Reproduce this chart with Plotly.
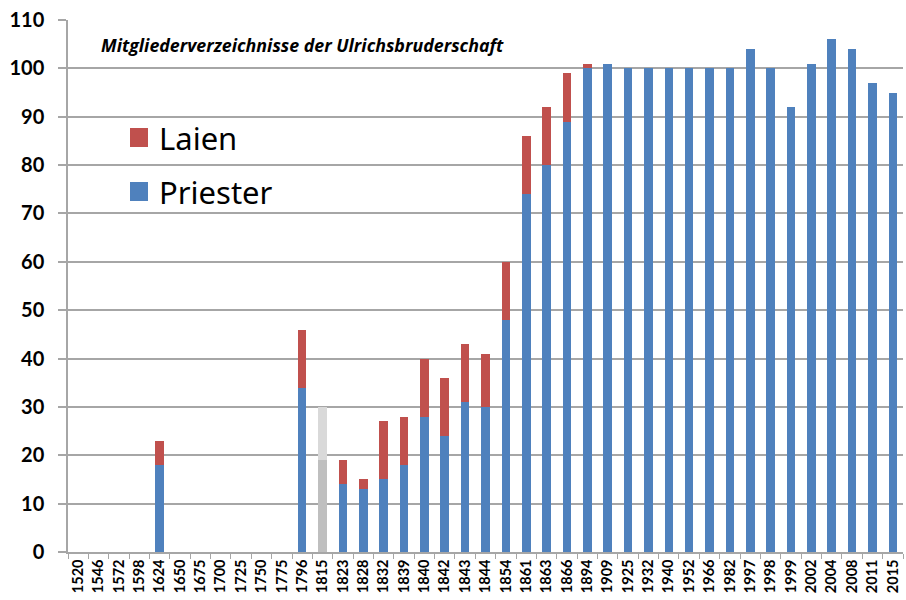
import plotly.graph_objects as go

years = ["1520", "1546", "1572", "1598", "1624", "1650", "1675", "1700", "1725", "1750",
         "1775", "1796", "1815", "1823", "1828", "1832", "1839", "1840", "1842", "1843",
         "1844", "1854", "1861", "1863", "1866", "1894", "1909", "1925", "1932", "1940",
         "1952", "1966", "1982", "1997", "1998", "1999", "2002", "2004", "2008", "2011", "2015"]

priester = [0, 0, 0, 0, 18, 0, 0, 0, 0, 0,
            0, 34, 19, 14, 13, 15, 18, 28, 24, 31,
            30, 48, 74, 80, 89, 100, 101, 100, 100, 100,
            100, 100, 100, 104, 100, 92, 101, 106, 104, 97, 95]

laien = [0, 0, 0, 0, 5, 0, 0, 0, 0, 0,
         0, 12, 11, 5, 2, 12, 10, 12, 12, 12,
         11, 12, 12, 12, 10, 1, 0, 0, 0, 0,
         0, 0, 0, 0, 0, 0, 0, 0, 0, 0, 0]

legend_labels = ["Laien", "Priester"]

BLUE = "#4F81BD"
RED = "#C0504D"
uncertain = "1815"
priester_colors = ["#BFBFBF" if y == uncertain else BLUE for y in years]
laien_colors = ["#D9D9D9" if y == uncertain else RED for y in years]

fig = go.Figure()
fig.add_trace(go.Bar(x=years, y=priester, name="Priester", showlegend=False,
                     marker=dict(color=priester_colors, line=dict(width=0))))
fig.add_trace(go.Bar(x=years, y=laien, name="Laien", showlegend=False,
                     marker=dict(color=laien_colors, line=dict(width=0))))

# plot area: x 68..903 px, y 20..552 px
L, R, T, B = 68, 903, 20, 552
W, H = R - L, B - T
def px(x):
    return (x - L) / W
def py(y):
    return (B - y) / H

shapes = []
annotations = []
for lbl, col, top in [(legend_labels[0], RED, 128), (legend_labels[1], BLUE, 182)]:
    shapes.append(dict(type="rect", xref="paper", yref="paper",
                       x0=px(130), x1=px(148), y0=py(top + 19), y1=py(top),
                       fillcolor=col, line=dict(width=0)))
    annotations.append(dict(text=lbl, xref="paper", yref="paper", x=px(157), y=py(top + 10),
                            xanchor="left", yanchor="middle", showarrow=False,
                            font=dict(size=31, family="Noto Sans", color="#000000")))

annotations.append(dict(text="<b><i>Mitgliederverzeichnisse der Ulrichsbruderschaft</i></b>",
                        x=px(99), y=py(45), xref="paper", yref="paper",
                        xanchor="left", yanchor="middle", showarrow=False,
                        font=dict(size=17.8, family="Open Sans", color="#000000")))

fig.update_layout(
    barmode="stack",
    bargap=0.58,
    width=906, height=600,
    margin=dict(l=L, r=906 - R, t=T, b=600 - B, autoexpand=False),
    paper_bgcolor="white", plot_bgcolor="white",
    font=dict(family="Lato", color="#000000"),
    showlegend=False,
    shapes=shapes,
    annotations=annotations,
)

fig.update_yaxes(range=[0, 110], dtick=10, showgrid=True, gridcolor="#A6A6A6", gridwidth=1.5,
                 showline=True, linecolor="#A6A6A6", linewidth=1.5,
                 ticks="outside", ticklen=8, tickcolor="#A6A6A6", tickwidth=1.5,
                 ticklabelstandoff=10, automargin=False,
                 tickfont=dict(size=20, family="Lato", weight="bold"), zeroline=False)
fig.update_xaxes(type="category", tickangle=-90, showline=True, linecolor="#A6A6A6", linewidth=1.5,
                 ticks="outside", tickson="boundaries", ticklen=5, tickcolor="#A6A6A6",
                 automargin=False,
                 tickfont=dict(size=14.5, family="Lato", weight="bold"), showgrid=False)

fig.write_html("out.html", config={"displayModeBar": False},
               post_script="document.body.style.margin='0px';document.body.style.overflow='hidden';")
